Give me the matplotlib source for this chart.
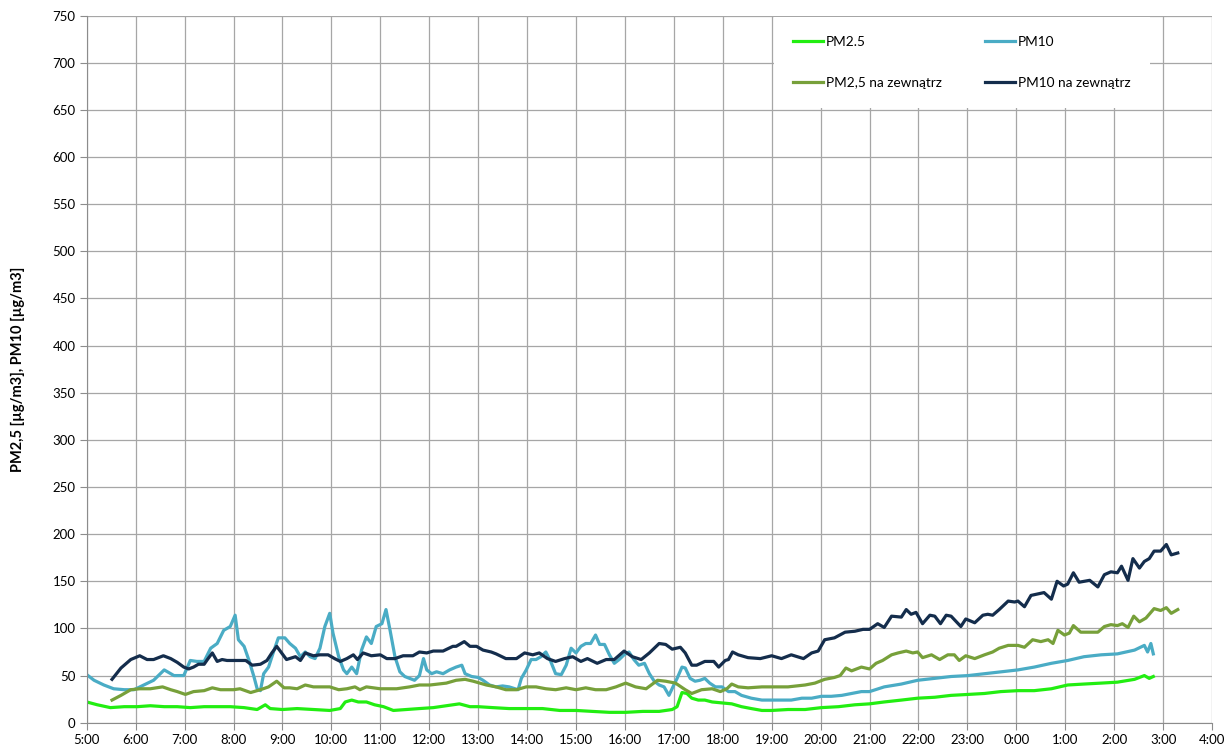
import numpy as np
import matplotlib
matplotlib.use("Agg")
import matplotlib.pyplot as plt

plt.rcParams['font.family'] = ['Lato', 'DejaVu Sans']

# Indoor PM2.5
pm25_t = ["5:00", "5:13", "5:29", "5:46", "6:02", "6:18", "6:35", "6:51", "7:07", "7:24",
          "7:40", "7:56", "8:13", "8:29", "8:39", "8:45", "9:00", "9:18", "9:38", "9:58",
          "10:11", "10:17", "10:25", "10:33", "10:43", "10:53", "11:04", "11:16", "11:32", "11:48",
          "12:05", "12:21", "12:37", "12:50", "13:00", "13:18", "13:38", "13:59", "14:19", "14:40",
          "15:00", "15:20", "15:41", "16:01", "16:22", "16:42", "16:58", "17:04", "17:10", "17:16",
          "17:22", "17:30", "17:38", "17:47", "17:59", "18:11", "18:23", "18:35", "18:48", "19:00",
          "19:20", "19:41", "20:01", "20:22", "20:42", "21:00", "21:18", "21:39", "21:59", "22:20",
          "22:40", "23:01", "23:21", "23:41", "0:02", "0:22", "0:43", "1:03", "1:23", "1:44",
          "2:04", "2:25", "2:37", "2:43", "2:48"]
pm25_v = [22, 19, 16, 17, 17, 18, 17, 17, 16, 17,
          17, 17, 16, 14, 19, 15, 14, 15, 14, 13,
          15, 22, 24, 22, 22, 19, 17, 13, 14, 15,
          16, 18, 20, 17, 17, 16, 15, 15, 15, 13,
          13, 12, 11, 11, 12, 12, 14, 17, 32, 31,
          26, 24, 24, 22, 21, 20, 17, 15, 13, 13,
          14, 14, 16, 17, 19, 20, 22, 24, 26, 27,
          29, 30, 31, 33, 34, 34, 36, 40, 41, 42,
          43, 46, 50, 47, 49]

# Indoor PM10
pm10_t = ["5:00", "5:09", "5:21", "5:33", "5:46", "5:58", "6:10", "6:22", "6:35", "6:47",
          "6:59", "7:07", "7:15", "7:24", "7:32", "7:40", "7:48", "7:56", "8:02", "8:06",
          "8:13", "8:19", "8:25", "8:29", "8:33", "8:37", "8:43", "8:49", "8:55", "9:03",
          "9:09", "9:16", "9:22", "9:28", "9:34", "9:40", "9:46", "9:52", "9:58", "10:02",
          "10:09", "10:15", "10:19", "10:25", "10:31", "10:37", "10:43", "10:49", "10:55", "11:02",
          "11:07", "11:12", "11:18", "11:24", "11:30", "11:36", "11:42", "11:48", "11:53", "11:57",
          "12:03", "12:09", "12:17", "12:25", "12:33", "12:40", "12:44", "12:52", "13:00", "13:06",
          "13:14", "13:22", "13:30", "13:38", "13:49", "13:53", "13:59", "14:05", "14:11", "14:17",
          "14:23", "14:29", "14:35", "14:42", "14:48", "14:54", "15:00", "15:06", "15:12", "15:18",
          "15:24", "15:29", "15:35", "15:41", "15:47", "15:53", "15:59", "16:05", "16:11", "16:17",
          "16:24", "16:30", "16:36", "16:42", "16:48", "16:54", "17:00", "17:04", "17:10", "17:14",
          "17:20", "17:26", "17:32", "17:38", "17:44", "17:51", "17:59", "18:07", "18:15", "18:23",
          "18:35", "18:48", "19:00", "19:12", "19:24", "19:37", "19:49", "20:01", "20:13", "20:26",
          "20:38", "20:50", "21:00", "21:18", "21:39", "21:59", "22:20", "22:40", "23:01", "23:21",
          "23:41", "0:02", "0:22", "0:43", "1:03", "1:23", "1:44", "2:04", "2:25", "2:37",
          "2:41", "2:45", "2:48"]
pm10_v = [51, 45, 40, 36, 35, 35, 40, 45, 56, 50,
          50, 66, 65, 65, 79, 84, 98, 102, 114, 88,
          81, 66, 49, 36, 34, 52, 59, 75, 90, 90,
          84, 79, 70, 75, 70, 68, 79, 102, 116, 95,
          70, 56, 52, 59, 52, 77, 91, 84, 102, 105,
          120, 98, 70, 54, 49, 47, 45, 50, 68, 56,
          52, 54, 52, 56, 59, 61, 52, 49, 48, 45,
          40, 38, 39, 38, 35, 47, 56, 67, 67, 70,
          75, 65, 52, 51, 61, 79, 74, 81, 84, 84,
          93, 83, 83, 72, 63, 67, 72, 75, 67, 61,
          63, 52, 44, 40, 38, 29, 40, 47, 59, 58,
          47, 44, 45, 47, 42, 38, 38, 33, 33, 29,
          26, 24, 24, 24, 24, 26, 26, 28, 28, 29,
          31, 33, 33, 38, 41, 45, 47, 49, 50, 52,
          54, 56, 59, 63, 66, 70, 72, 73, 77, 82,
          75, 84, 73]

# Outdoor PM2,5
out25_t = ["5:31", "5:42", "5:54", "6:05", "6:18", "6:33", "6:43", "6:51", "7:01", "7:11",
           "7:24", "7:34", "7:44", "8:00", "8:08", "8:21", "8:33", "8:43", "8:53", "9:02",
           "9:09", "9:18", "9:28", "9:38", "9:58", "10:09", "10:19", "10:29", "10:35", "10:43",
           "11:00", "11:20", "11:36", "11:48", "12:01", "12:21", "12:33", "12:44", "12:54", "13:10",
           "13:22", "13:34", "13:47", "13:59", "14:11", "14:23", "14:35", "14:48", "15:00", "15:12",
           "15:24", "15:37", "15:49", "16:01", "16:13", "16:26", "16:40", "16:50", "17:02", "17:14",
           "17:22", "17:34", "17:47", "17:57", "18:05", "18:11", "18:19", "18:31", "18:48", "19:20",
           "19:41", "19:53", "20:05", "20:17", "20:24", "20:31", "20:38", "20:50", "21:00", "21:08",
           "21:16", "21:27", "21:35", "21:45", "21:53", "21:59", "22:05", "22:16", "22:26", "22:36",
           "22:44", "22:50", "22:58", "23:09", "23:21", "23:31", "23:39", "23:50", "0:02", "0:10",
           "0:20", "0:30", "0:39", "0:45", "0:51", "0:59", "1:05", "1:10", "1:19", "1:32",
           "1:40", "1:48", "1:56", "2:04", "2:10", "2:17", "2:24", "2:31", "2:39", "2:49",
           "2:57", "3:04", "3:10", "3:18"]
out25_v = [24, 29, 35, 36, 36, 38, 35, 33, 30, 33,
           34, 37, 35, 35, 36, 32, 35, 38, 44, 37,
           37, 36, 40, 38, 38, 35, 36, 38, 35, 38,
           36, 36, 38, 40, 40, 42, 45, 46, 44, 40,
           38, 35, 35, 38, 38, 36, 35, 37, 35, 37,
           35, 35, 38, 42, 38, 36, 45, 44, 42, 35,
           31, 35, 36, 33, 36, 41, 38, 37, 38, 38,
           40, 42, 46, 48, 50, 58, 55, 59, 57, 63,
           66, 72, 74, 76, 74, 75, 69, 72, 67, 72,
           72, 66, 71, 68, 72, 75, 79, 82, 82, 80,
           88, 86, 88, 84, 98, 93, 95, 103, 96, 96,
           96, 102, 104, 103, 105, 101, 113, 107, 111, 121,
           119, 122, 116, 120]

# Outdoor PM10
out10_t = ["5:31", "5:42", "5:54", "6:05", "6:14", "6:22", "6:34", "6:43", "6:51", "6:59",
           "7:05", "7:11", "7:17", "7:24", "7:28", "7:34", "7:40", "7:46", "7:52", "8:04",
           "8:15", "8:23", "8:33", "8:41", "8:47", "8:53", "9:05", "9:16", "9:22", "9:28",
           "9:38", "9:46", "9:56", "10:04", "10:11", "10:19", "10:27", "10:32", "10:39", "10:49",
           "11:00", "11:08", "11:18", "11:28", "11:40", "11:48", "11:57", "12:05", "12:17", "12:29",
           "12:33", "12:43", "12:50", "12:58", "13:06", "13:16", "13:22", "13:34", "13:47", "13:57",
           "14:07", "14:15", "14:25", "14:35", "14:46", "14:56", "15:06", "15:14", "15:26", "15:37",
           "15:47", "15:59", "16:09", "16:20", "16:30", "16:42", "16:50", "16:58", "17:08", "17:14",
           "17:22", "17:28", "17:38", "17:49", "17:55", "18:03", "18:07", "18:12", "18:19", "18:31",
           "18:46", "19:00", "19:12", "19:24", "19:39", "19:49", "19:57", "20:05", "20:17", "20:30",
           "20:42", "20:52", "21:00", "21:10", "21:18", "21:27", "21:39", "21:45", "21:51", "21:57",
           "22:05", "22:14", "22:20", "22:27", "22:34", "22:40", "22:52", "22:58", "23:09", "23:19",
           "23:25", "23:31", "23:39", "23:50", "23:58", "0:02", "0:10", "0:18", "0:34", "0:43",
           "0:50", "0:58", "1:03", "1:10", "1:17", "1:30", "1:40", "1:48", "1:56", "2:04",
           "2:09", "2:17", "2:23", "2:31", "2:37", "2:43", "2:49", "2:57", "3:04", "3:10",
           "3:18"]
out10_v = [46, 58, 67, 71, 67, 67, 71, 68, 64, 59,
           57, 59, 62, 62, 67, 74, 65, 67, 66, 66,
           66, 61, 62, 66, 74, 81, 67, 70, 66, 74,
           71, 72, 72, 68, 65, 68, 72, 67, 74, 71,
           72, 68, 68, 71, 71, 75, 74, 76, 76, 81,
           81, 86, 81, 81, 77, 75, 73, 68, 68, 74,
           72, 74, 68, 65, 68, 70, 65, 68, 63, 67,
           67, 76, 70, 67, 74, 84, 83, 78, 80, 74,
           61, 61, 65, 65, 59, 66, 67, 75, 72, 69,
           68, 71, 68, 72, 68, 74, 76, 88, 90, 96,
           97, 99, 99, 105, 101, 113, 112, 120, 115, 117,
           105, 114, 113, 105, 114, 113, 102, 110, 106, 114,
           115, 114, 120, 129, 128, 129, 123, 135, 138, 131,
           150, 145, 147, 159, 149, 151, 144, 157, 160, 159,
           166, 151, 174, 164, 171, 174, 182, 182, 189, 178,
           180]

labels = ["PM2.5", "PM10", "PM2,5 na zewnątrz", "PM10 na zewnątrz"]
colors = ["#22ee11", "#4aacc5", "#77a03a", "#142d4c"]


def to_hours(times):
    # clock times after midnight belong to the next day
    out = []
    for s in times:
        h, m = map(int, s.split(":"))
        if h < 5:
            h += 24
        out.append(h + m / 60)
    return np.array(out)


fig = plt.figure(figsize=(12.25, 7.49), dpi=100)
ax = fig.add_axes([0.0708, 0.0351, 0.9186, 0.9442])

series = [(pm25_t, pm25_v), (pm10_t, pm10_v), (out25_t, out25_v), (out10_t, out10_v)]
handles = []
for (t, v), lab, c in zip(series, labels, colors):
    ln, = ax.plot(to_hours(t), v, color=c, lw=2.3, label=lab, solid_joinstyle='round')
    handles.append(ln)

ax.set_xlim(5, 28)
ax.set_ylim(0, 750)
ax.set_xticks(range(5, 29))
ax.set_xticklabels([f"{h % 24}:00" for h in range(5, 29)])
ax.set_yticks(range(0, 751, 50))
ax.grid(True, color="#a6a6a6", lw=0.9)
ax.set_axisbelow(True)
for side in ["top", "right"]:
    ax.spines[side].set_visible(False)
for side in ["left", "bottom"]:
    ax.spines[side].set_color("#8c8c8c")
ax.tick_params(direction="out", length=5, color="#8c8c8c", labelsize=9.5, pad=3)
ax.set_ylabel("PM2,5 [µg/m3], PM10 [µg/m3]", fontsize=10.5, fontweight="bold", labelpad=20)

# legend fills column-wise, so reorder to get PM2.5 | PM10 on the first row
order = [0, 2, 1, 3]
leg = ax.legend([handles[i] for i in order], [labels[i] for i in order],
                ncol=2, loc="upper left", bbox_to_anchor=(0.611, 0.998),
                fontsize=9.8, frameon=True, facecolor="white", edgecolor="none",
                framealpha=1, fancybox=False, handlelength=2.2, handletextpad=0.2,
                columnspacing=3.2, labelspacing=2.1, borderpad=1.4, borderaxespad=0)
for line in leg.get_lines():
    line.set_linewidth(2.3)

fig.savefig("out.png", dpi=100)
